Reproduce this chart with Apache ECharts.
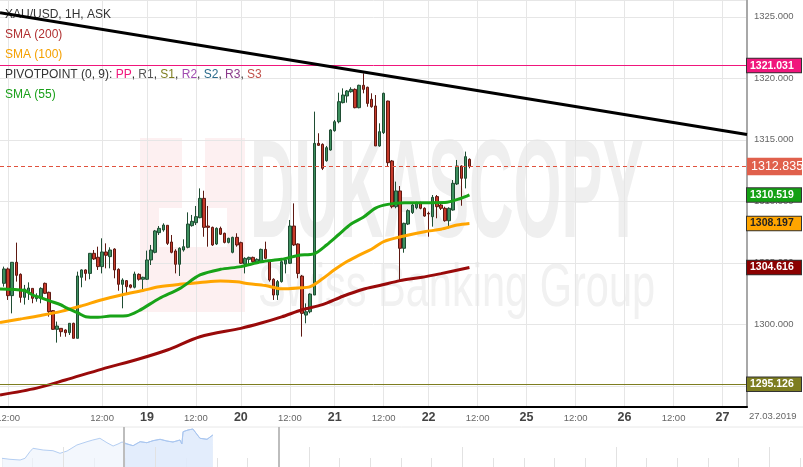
<!DOCTYPE html>
<html><head><meta charset="utf-8">
<script src="https://cdn.jsdelivr.net/npm/echarts@6/dist/echarts.min.js"></script>
<style>html,body{margin:0;padding:0;background:#fff}#c{width:803px;height:467px}</style>
</head><body><div id="c"></div>
<script>
// ---------- time slots (hourly, trading sessions) ----------
const sessions = [['15',10,20],['17',22,23],['18',0,20],['18',22,23],['19',0,20],['19',22,23],['20',0,20],['20',22,23],['21',0,20],['21',22,23],['22',0,23],['25',0,23],['26',0,23],['27',0,6]];
const labelSlots = ['15 12:00','18 12:00','19 00:00','19 12:00','20 00:00','20 12:00','21 00:00','21 12:00','22 00:00','22 12:00','25 00:00','25 12:00','26 00:00','26 12:00','27 00:00'];
const firstCandleSlot = 1;
// ---------- hourly candles [open, high, low, close] ----------
const candles = [
[1303.33,1304.69,1303.06,1304.50],[1304.50,1304.61,1301.98,1302.33],[1302.33,1305.04,1300.89,1305.04],[1305.04,1306.64,1303.47,1303.98],
[1304.06,1304.14,1301.76,1302.19],[1302.19,1303.20,1301.60,1302.87],[1302.65,1303.41,1301.98,1302.95],[1302.92,1302.92,1301.71,1302.11],
[1302.08,1302.52,1301.84,1302.25],[1302.11,1303.01,1301.71,1302.92],[1303.33,1303.39,1302.46,1302.52],[1302.60,1302.65,1300.62,1301.03],
[1301.11,1301.16,1299.54,1299.59],[1299.59,1300.22,1298.51,1299.86],[1299.67,1299.67,1298.99,1299.40],[1299.54,1299.59,1298.99,1299.32],
[1299.32,1300.08,1299.13,1300.08],[1300.08,1300.13,1298.86,1298.86],[1298.86,1304.28,1298.86,1303.93],[1303.82,1304.47,1303.01,1304.42],
[1304.42,1304.47,1303.55,1304.14],[1304.14,1305.77,1303.66,1305.77],[1305.77,1306.04,1305.23,1305.31],[1305.45,1306.31,1304.42,1304.69],
[1304.69,1306.99,1304.14,1305.88],[1305.88,1306.58,1304.55,1305.61],[1305.50,1306.26,1304.55,1306.04],[1306.12,1306.18,1303.74,1304.42],
[1304.47,1304.55,1302.73,1303.25],[1303.25,1303.74,1301.30,1303.60],[1303.55,1303.60,1302.52,1303.06],[1303.20,1303.25,1302.92,1303.01],
[1303.01,1304.28,1302.92,1304.09],[1304.06,1304.14,1303.55,1303.66],[1303.66,1303.87,1302.79,1303.82],[1303.66,1305.99,1303.60,1305.23],
[1305.23,1306.45,1304.82,1306.04],[1305.85,1307.67,1305.77,1307.59],[1307.45,1307.99,1307.26,1307.80],[1307.67,1308.21,1307.53,1308.07],
[1308.05,1308.05,1306.45,1306.58],[1306.69,1307.26,1305.77,1305.85],[1305.96,1306.10,1304.14,1304.88],[1304.88,1306.26,1303.93,1306.18],
[1306.04,1306.91,1305.91,1306.31],[1306.26,1309.10,1306.18,1308.15],[1308.02,1308.89,1307.94,1308.37],[1308.26,1309.62,1308.07,1308.75],
[1308.67,1311.05,1308.62,1310.24],[1310.24,1310.86,1307.12,1307.88],[1307.99,1309.62,1306.31,1307.88],[1307.88,1307.94,1306.37,1306.45],
[1306.53,1307.88,1306.45,1307.80],[1307.80,1307.94,1307.26,1307.32],[1307.40,1307.45,1306.58,1306.66],[1306.66,1307.04,1306.58,1306.99],
[1305.85,1307.12,1305.77,1307.07],[1307.07,1307.40,1306.31,1306.45],[1306.64,1306.72,1304.90,1304.96],[1304.90,1305.45,1304.14,1305.36],
[1305.28,1305.50,1304.82,1305.44],[1305.44,1305.50,1305.01,1305.09],[1304.96,1305.36,1304.90,1305.28],[1305.09,1306.15,1305.01,1306.09],
[1306.09,1306.72,1305.28,1305.36],[1305.09,1305.17,1303.47,1303.60],[1303.66,1303.74,1301.98,1302.38],[1302.38,1303.60,1301.98,1303.47],
[1303.47,1305.28,1303.39,1305.09],[1304.90,1305.36,1304.14,1305.23],[1304.96,1308.48,1304.90,1307.99],[1307.99,1309.83,1306.37,1306.45],
[1306.53,1306.58,1303.74,1304.14],[1303.92,1304.01,1299.00,1300.89],[1300.75,1301.70,1300.08,1301.02],[1301.02,1302.52,1300.89,1302.46],
[1302.38,1317.29,1302.38,1314.71],[1314.71,1315.53,1314.50,1314.55],[1314.63,1314.71,1312.54,1312.68],[1313.30,1314.50,1313.22,1314.36],
[1314.17,1315.85,1314.12,1315.80],[1315.74,1316.61,1315.66,1316.47],[1316.47,1318.83,1316.34,1318.10],[1318.02,1319.18,1317.96,1318.64],
[1318.56,1319.05,1318.02,1318.97],[1318.91,1319.27,1318.83,1319.10],[1319.10,1319.18,1317.56,1317.61],[1317.61,1319.48,1317.56,1319.43],
[1319.43,1320.40,1318.78,1319.10],[1319.27,1319.32,1317.69,1317.96],[1318.29,1318.78,1317.61,1317.69],[1317.75,1318.64,1314.50,1314.50],
[1314.50,1316.34,1314.44,1315.66],[1315.58,1318.83,1315.47,1318.78],[1318.15,1318.18,1312.87,1313.14],[1313.28,1313.36,1309.43,1309.56],
[1309.56,1311.60,1309.43,1310.84],[1310.84,1311.24,1303.47,1306.18],[1306.18,1308.26,1305.82,1308.21],[1308.15,1309.35,1308.07,1309.24],
[1309.08,1309.83,1308.97,1309.70],[1309.48,1309.97,1309.35,1309.89],[1309.89,1309.97,1309.35,1309.43],[1309.43,1309.51,1308.75,1308.80],
[1309.02,1309.16,1307.12,1308.97],[1308.75,1310.51,1307.94,1310.32],[1310.38,1310.51,1308.62,1309.56],[1309.70,1309.83,1309.29,1309.43],
[1309.43,1309.56,1308.34,1308.42],[1308.42,1309.51,1307.80,1309.43],[1309.29,1311.73,1309.24,1311.46],[1311.41,1313.36,1311.33,1312.87],
[1312.87,1312.92,1309.64,1311.87],[1311.87,1314.04,1311.05,1313.63],[1313.41,1313.49,1312.68,1312.835]
];
// ---------- indicators [slot, value] ----------
const sma55 = [[0,1302.87],[6,1302.74],[8,1302.38],[10,1302.17],[12,1301.92],[15,1301.57],[16,1301.38],[19,1300.94],[21,1300.62],[24,1300.57],[27,1300.67],[31,1300.70],[34,1301.10],[39,1302.10],[44,1302.90],[49,1304.01],[54,1304.47],[59,1304.69],[64,1305.09],[69,1305.28],[73,1305.60],[77,1305.75],[80,1306.45],[83,1307.30],[86,1308.15],[89,1308.70],[92,1309.45],[95,1309.75],[99,1309.88],[104,1309.89],[109,1309.90],[113,1310.25],[115,1310.519]];
const sma100 = [[0,1300.15],[5,1300.43],[10,1300.72],[15,1301.05],[20,1301.50],[25,1302.00],[30,1302.40],[35,1302.75],[39,1303.05],[44,1303.25],[49,1303.39],[54,1303.52],[58,1303.45],[61,1303.30],[65,1303.15],[69,1302.88],[73,1302.95],[76,1303.06],[79,1303.70],[82,1304.45],[85,1305.10],[88,1305.63],[91,1306.10],[94,1306.72],[99,1307.18],[104,1307.53],[108,1307.72],[112,1308.07],[115,1308.197]];
const sma200 = [[0,1294.25],[9,1294.81],[16,1295.47],[25,1296.36],[34,1297.18],[41,1297.91],[49,1298.99],[59,1299.67],[64,1300.10],[69,1300.60],[74,1301.18],[79,1301.60],[84,1302.28],[89,1302.85],[93,1303.15],[98,1303.55],[103,1303.80],[108,1304.12],[115,1304.616]];
const trendLine = [[0,1325.33],[183,1315.43]];
const pivotPP = 1321.031;
const pivotS3 = 1295.126;
// ---------- navigator [day, price] ----------
const navPoints = [[0,1289.7],[0.26,1288.7],[0.59,1288.0],[0.75,1289.7],[0.91,1296.3],[1.01,1299.7],[1.34,1298.0],[1.66,1297.3],[1.89,1294.7],[2.12,1297.0],[2.44,1303.0],[2.77,1306.3],[2.96,1308.0],[3.19,1309.7],[3.42,1305.3],[3.62,1302.0],[3.78,1304.0],[3.91,1306.0],[3.97,1304.7],[4.27,1302.3],[4.50,1306.3],[4.72,1305.3],[4.92,1307.3],[5.15,1308.7],[5.37,1307.0],[5.57,1306.0],[5.80,1308.0],[5.86,1304.0],[5.90,1316.3],[6.06,1318.0],[6.22,1319.0],[6.45,1309.7],[6.68,1308.7],[6.87,1313.0]];
const navWindow = [3.97, 9.02];
const navMajorTicks = [2,5,10,15,20,25];

const FONT = 'Liberation Sans, Arial, sans-serif';
const categories = [];
sessions.forEach(([d,h0,h1]) => { for (let h=h0; h<=h1; h++) categories.push(d+' '+String(h).padStart(2,'0')+':00'); });
const firstCat = categories[0], lastCat = categories[categories.length-1];
const labelSet = new Set(labelSlots);
const showSlot = (i, v) => labelSet.has(v);
const candleRows = candles.map((c,i) => [i+firstCandleSlot, c[0], c[3], c[2], c[1]]);
const lastClose = candles[candles.length-1][3];

function tag(value, bg, fg, border, fs, bold) {
  return { show:true, position:'end', distance:0, formatter: () => value.toFixed(3),
    color: fg, backgroundColor: bg, borderColor: border || 'transparent', borderWidth: border ? 1 : 0,
    padding: [1,3,0,3], fontSize: fs, fontWeight: bold ? 'bold' : 'normal', fontFamily: FONT, width: 48, lineHeight: fs+2 };
}
function hLine(value, lineStyle, label) {
  return [{ coord:[firstCat, value], lineStyle: lineStyle, label: label }, { coord:[lastCat, value] }];
}
function tagLine(value, bg, fg, border) {
  return { silent:true, symbol:'none', animation:false,
    data:[ hLine(value, { color:'rgba(0,0,0,0)', width:0 }, tag(value, bg, fg, border, 10.5, true)) ] };
}

const chart = echarts.init(document.getElementById('c'), null, {renderer:'canvas'});
chart.setOption({
  animation:false,
  backgroundColor:'#fff',
  grid:[{left:0, right:56, top:0, bottom:60, outerBoundsMode:'none', containLabel:false},
        {left:2, right:3, top:427, bottom:0, outerBoundsMode:'none', containLabel:false}],
  xAxis:[
    { type:'category', gridIndex:0, data:categories, boundaryGap:false,
      axisLine:{ lineStyle:{ color:'#000', width:2 } }, axisTick:{ show:false },
      axisLabel:{ interval: showSlot, margin:4, fontFamily:FONT,
        formatter: v => { const [d,t] = v.split(' '); return t==='00:00' ? '{d|'+d+'}' : '{t|'+t+'}'; },
        rich:{ d:{ fontSize:12.5, fontWeight:'bold', color:'#444', fontFamily:FONT, lineHeight:14 },
               t:{ fontSize:9.5, color:'#666', fontFamily:FONT, lineHeight:14 } } },
      splitLine:{ show:true, interval: showSlot, lineStyle:{ color:'#e6e6e6', width:1 } } },
    { type:'value', gridIndex:1, min:0, max:26, interval:1,
      axisLine:{ show:false }, axisLabel:{ show:false }, splitLine:{ show:false },
      axisTick:{ show:true, inside:true, length:9, lineStyle:{ color:'#e2e2e2', width:1 } } }
  ],
  yAxis:[
    { type:'value', gridIndex:0, position:'right', min:1293.276, max:1326.366, splitNumber:6, scale:true,
      axisLine:{ show:true, lineStyle:{ color:'#a8a8a8', width:2 } }, axisTick:{ show:false },
      axisLabel:{ color:'#666', fontSize:9.5, fontFamily:FONT, margin:7, showMinLabel:false, showMaxLabel:false,
        formatter: v => v.toFixed(3) },
      splitLine:{ lineStyle:{ color:'#e6e6e6', width:1 } } },
    { type:'value', gridIndex:1, min:1281, max:1321, show:false }
  ],
  graphic:{ elements:[
    { type:'rect', z:-5, shape:{ x:140, y:138, width:105, height:174 }, style:{ fill:'#fdf0f1' } },
    { type:'rect', z:-4, shape:{ x:182, y:138, width:23, height:70 }, style:{ fill:'#fff' } },
    { type:'rect', z:-4, shape:{ x:159, y:208, width:68, height:39 }, style:{ fill:'#fff' } },
    { type:'text', z:-4, x:250, y:128, scaleX:0.44, style:{ text:'DUKASCOPY', fill:'#efefef', font:'bold 140px '+FONT } },
    { type:'text', z:-4, x:258, y:258, scaleX:0.67, style:{ text:'Swiss Banking Group', fill:'#f1f1f1', font:'62px '+FONT } },
    { type:'line', z:1, shape:{ x1:0, y1:427, x2:803, y2:427 }, style:{ stroke:'#e8e8e8', lineWidth:1 } },
    { type:'text', z:1, x:749, y:411, style:{ text:'27.03.2019', fill:'#666', font:'9.5px '+FONT } },
    { type:'text', z:1, x:5, y:9, style:{ text:'XAU/USD, 1H, ASK', fill:'#333', font:'12px '+FONT } },
    { type:'text', z:1, x:5, y:29, style:{ text:'SMA (200)', fill:'#b03030', font:'12px '+FONT } },
    { type:'text', z:1, x:5, y:49, style:{ text:'SMA (100)', fill:'#f5a000', font:'12px '+FONT } },
    { type:'text', z:1, x:5, y:69, style:{ font:'12px '+FONT,
      text:'PIVOTPOINT (0, 9): {pp|PP}, {r1|R1}, {s1|S1}, {r2|R2}, {s2|S2}, {r3|R3}, {s3|S3}', fill:'#333',
      rich:{ pp:{fill:'#f0167c'}, r1:{fill:'#555'}, s1:{fill:'#7d7d20'}, r2:{fill:'#a04cb0'}, s2:{fill:'#2a6a8a'}, r3:{fill:'#8a3a8a'}, s3:{fill:'#c0504a'} } } },
    { type:'text', z:1, x:5, y:89, style:{ text:'SMA (55)', fill:'#1aa01a', font:'12px '+FONT } }
  ]},
  series:[
    { type:'candlestick', xAxisIndex:0, yAxisIndex:0, data:candleRows, encode:{ x:0, y:[1,2,3,4] }, barWidth:3, z:3,
      itemStyle:{ color:'#3d8f5e', color0:'#c63a2a', borderColor:'#1f4d33', borderColor0:'#5e1912', borderWidth:1 },
      markLine:{ silent:true, symbol:'none', animation:false, data:[
        hLine(pivotPP, { color:'#f0167c', width:1, type:'solid' }, tag(pivotPP,'#f0167c','#fff','#333',10.5,true)),
        hLine(pivotS3, { color:'#7d7d20', width:1, type:'solid' }, tag(pivotS3,'#7d7d20','#fff','#333',10.5,true)),
        hLine(lastClose, { color:'#e0523e', width:1, type:[4,3] }, Object.assign(tag(lastClose,'#e0604c','#fff',null,12.5,false), {padding:[2,3,1,4]}))
      ]} },
    { type:'line', name:'SMA (200)', data:sma200, showSymbol:false, smooth:0.3, z:4,
      lineStyle:{ color:'#990a0a', width:3 }, markLine: tagLine(sma200[sma200.length-1][1], '#8b0000', '#fff', '#333') },
    { type:'line', name:'SMA (100)', data:sma100, showSymbol:false, smooth:0.3, z:4,
      lineStyle:{ color:'#ffa500', width:3 }, markLine: tagLine(sma100[sma100.length-1][1], '#ffa500', '#222', '#333') },
    { type:'line', name:'SMA (55)', data:sma55, showSymbol:false, smooth:0.3, z:4,
      lineStyle:{ color:'#18a318', width:3 }, markLine: tagLine(sma55[sma55.length-1][1], '#14a014', '#fff', '#333') },
    { type:'line', data:trendLine, showSymbol:false, z:5, lineStyle:{ color:'#000', width:3 } },
    { type:'line', xAxisIndex:1, yAxisIndex:1, data:navPoints, showSymbol:false, z:2,
      lineStyle:{ color:'#b4cef2', width:1 }, areaStyle:{ color:'#eef4fc', origin:'start' },
      markLine:{ silent:true, symbol:'none', animation:false, label:{show:false},
        data: navMajorTicks.map(t => [{ coord:[t,1281] }, { coord:[t,1301] }]).concat(
              navWindow.map(t => [{ coord:[t,1281], lineStyle:{ color:'#bdbdbd', width:2 } }, { coord:[t,1321] }])),
        lineStyle:{ color:'#e2e2e2', width:1, type:'solid' } } },
    { type:'line', xAxisIndex:1, yAxisIndex:1, data:navPoints.filter(p => p[0] >= navWindow[0]), showSymbol:false, z:2,
      lineStyle:{ color:'#a9c6f0', width:1 }, areaStyle:{ color:'#dce8fb', origin:'start' } }
  ]
});
</script></body></html>
